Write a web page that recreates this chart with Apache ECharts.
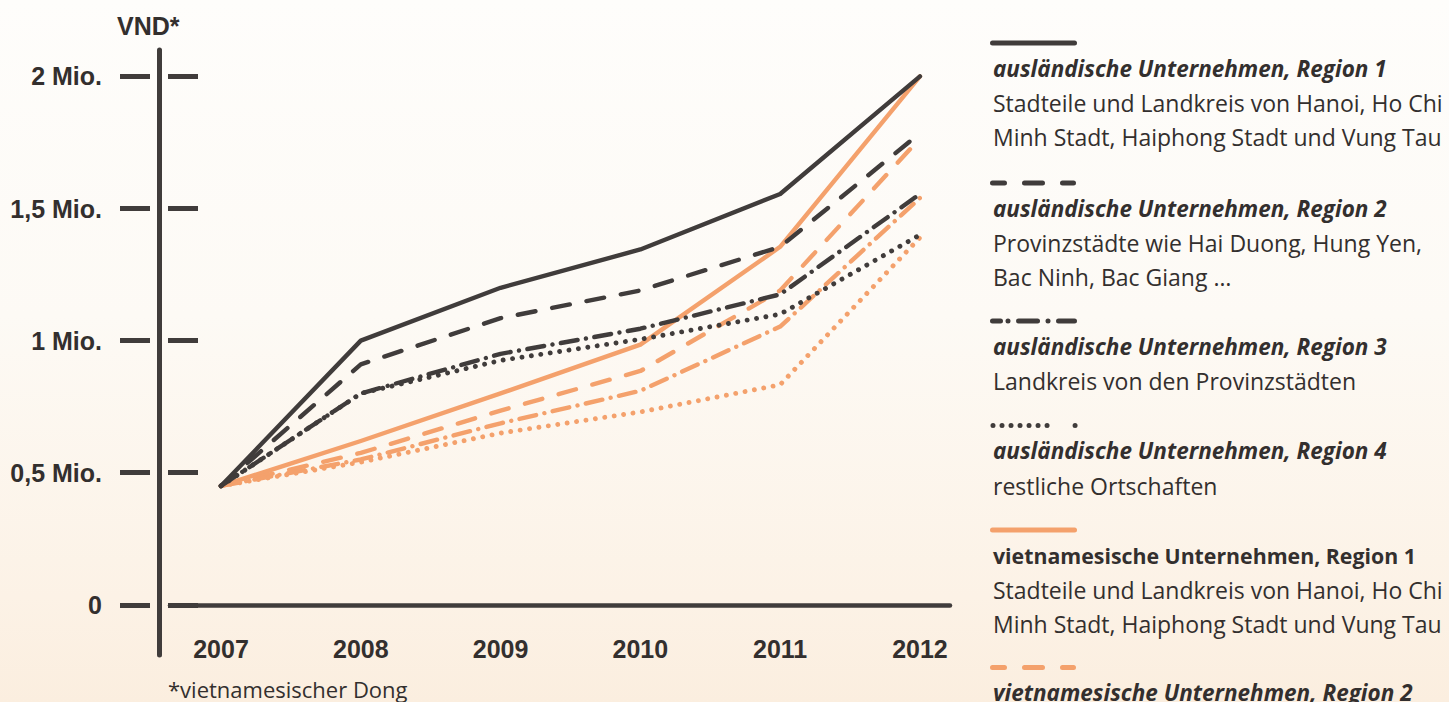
<!DOCTYPE html>
<html>
<head>
<meta charset="utf-8">
<script src="https://cdn.jsdelivr.net/npm/echarts@6/dist/echarts.min.js"></script>
<style>
html,body{margin:0;padding:0;width:1449px;height:702px;overflow:hidden;
background:linear-gradient(to bottom,#fefdfb 0%,#fdfaf5 45%,#fcf2e6 85%,#fbeedf 100%);}
#c{width:1449px;height:702px;}
</style>
</head>
<body>
<div id="c"></div>
<script>
// ---- data ----
const years = ['2007','2008','2009','2010','2011','2012'];
const yTickValues = [0, 0.5, 1, 1.5, 2];
const yTickLabels = ['0', '0,5 Mio.', '1 Mio.', '1,5 Mio.', '2 Mio.'];
const auslRegion1 = [0.45, 1.00, 1.20, 1.345, 1.555, 2.00];
const auslRegion2 = [0.45, 0.91, 1.085, 1.19, 1.355, 1.785];
const auslRegion3 = [0.45, 0.80, 0.95, 1.045, 1.175, 1.555];
const auslRegion4 = [0.45, 0.80, 0.925, 1.005, 1.10, 1.40];
const vietRegion1 = [0.45, 0.62, 0.80, 0.985, 1.355, 2.00];
const vietRegion2 = [0.45, 0.575, 0.735, 0.885, 1.19, 1.765];
const vietRegion3 = [0.45, 0.55, 0.687, 0.81, 1.053, 1.54];
const vietRegion4 = [0.45, 0.54, 0.65, 0.73, 0.833, 1.39];
const seriesNames = [
  'ausländische Unternehmen, Region 1',
  'ausländische Unternehmen, Region 2',
  'ausländische Unternehmen, Region 3',
  'ausländische Unternehmen, Region 4',
  'vietnamesische Unternehmen, Region 1',
  'vietnamesische Unternehmen, Region 2',
  'vietnamesische Unternehmen, Region 3',
  'vietnamesische Unternehmen, Region 4'
];
const legendDescs = [
  ['Stadteile und Landkreis von Hanoi, Ho Chi', 'Minh Stadt, Haiphong Stadt und Vung Tau'],
  ['Provinzstädte wie Hai Duong, Hung Yen,', 'Bac Ninh, Bac Giang …'],
  ['Landkreis von den Provinzstädten'],
  ['restliche Ortschaften'],
  ['Stadteile und Landkreis von Hanoi, Ho Chi', 'Minh Stadt, Haiphong Stadt und Vung Tau'],
  []
];
const unitLabel = 'VND*';
const footnote = '*vietnamesischer Dong';

// ---- styles ----
const DARK = '#403c3b';
const ORANGE = '#f4a16c';
const TEXT = '#332f2e';
const AXISFONT = '"Liberation Sans",Arial,sans-serif';
const SANS = '"Open Sans","Noto Sans",sans-serif';

const DASHED = [18, 17];
const DASHDOT = [17, 8.5, 0.01, 8.5];
const DOTTED = [0.01, 9.5];

function pts(arr){ return years.map((y,i)=>[Number(y), arr[i]]); }
function line(name, arr, color, type, z, w){
  return {
    name, type:'line', data: pts(arr), xAxisIndex:0, yAxisIndex:0, symbol:'none', z,
    lineStyle:{color, width:w || 4.4, type, cap:'round', join:'round'}
  };
}

// ---- legend graphics ----
const legendX = 993;
const groupY = [43, 183, 321, 425.5, 530, 667.5];
const legendStyles = [
  {color:DARK, dash:null},
  {color:DARK, dash:[12,20,18,20,11]},
  {color:DARK, dash:[8,7.5,0.01,10.5,19,10.5,0.01,10.5,16]},
  {color:DARK, dash:[0.01,9,0.01,9,0.01,9,0.01,9,0.01,9,0.01,9,0.01,28]},
  {color:ORANGE, dash:null},
  {color:ORANGE, dash:[12,20,18,20,11]}
];
const titleFont = [
  'italic bold 22.5px ', 'italic bold 22.5px ', 'italic bold 22.5px ', 'italic bold 22.5px ',
  'bold 21.3px ', 'italic bold 22.5px '
];
const graphics = [];
groupY.forEach((gy,i)=>{
  const st = legendStyles[i];
  const x1 = i===3 ? 993 : 992.5, x2 = i===3 ? 1076.5 : 1074.5;
  graphics.push({type:'line', shape:{x1, y1:gy, x2, y2:gy},
    style:{stroke:st.color, lineWidth:5, lineCap:'round', lineDash:st.dash || null}, silent:true});
  graphics.push({type:'text', x:legendX, y:gy+25,
    style:{text:seriesNames[i], fill:TEXT, font:titleFont[i]+SANS,
      textAlign:'left', textVerticalAlign:'middle'}});
  legendDescs[i].forEach((d,j)=>{
    graphics.push({type:'text', x:legendX, y:gy+60+j*34,
      style:{text:d, fill:TEXT, font:'23px '+SANS, textAlign:'left', textVerticalAlign:'middle'}});
  });
});
graphics.push({type:'text', x:117, y:26,
  style:{text:unitLabel, fill:TEXT, font:'bold 25px '+AXISFONT, textAlign:'left', textVerticalAlign:'middle'}});
graphics.push({type:'text', x:168, y:689,
  style:{text:footnote, fill:TEXT, font:'22px '+SANS, textAlign:'left', textVerticalAlign:'middle'}});

const Y_MAX = 2.1;
const X_MIN = 2006.635, X_MAX = 2012.215;
const axisLabelStyle = {color:TEXT, fontSize:25, fontWeight:'bold', fontFamily:AXISFONT};

const option = {
  animation:false,
  backgroundColor:'transparent',
  grid:[
    {left:170, right:499, top:50, bottom:97.2, containLabel:false, outerBoundsMode:'none'},
    {left:170, right:499, top:50, bottom:47, containLabel:false, outerBoundsMode:'none'}
  ],
  xAxis:[
    {
      gridIndex:0, type:'value', min:X_MIN, max:X_MAX,
      axisLine:{show:true, onZero:false, lineStyle:{color:DARK, width:4.5}},
      axisTick:{show:false}, splitLine:{show:false},
      axisLabel:Object.assign({customValues: years.map(Number), formatter:v=>String(v), margin:32}, axisLabelStyle)
    },
    {gridIndex:1, type:'value', min:X_MIN, max:X_MAX, show:false, splitLine:{show:false}}
  ],
  yAxis:[
    {gridIndex:0, type:'value', min:0, max:Y_MAX, position:'left', offset:20,
      splitLine:{show:false},
      axisLine:{show:false, onZero:false},
      axisTick:{show:true, customValues:yTickValues, length:30, lineStyle:{color:DARK, width:5}},
      axisLabel:Object.assign({show:true, customValues:yTickValues, margin:48,
        formatter:v=>yTickLabels[yTickValues.indexOf(v)] ?? ''}, axisLabelStyle)},
    {gridIndex:0, type:'value', min:0, max:Y_MAX, position:'left', offset:2,
      splitLine:{show:false},
      axisLine:{show:false, onZero:false},
      axisTick:{show:true, inside:true, customValues:yTickValues, length:30, lineStyle:{color:DARK, width:5}},
      axisLabel:{show:false}},
    {gridIndex:1, type:'value', min:0, max:1, position:'left', offset:10.5,
      splitLine:{show:false},
      axisLine:{show:true, onZero:false, lineStyle:{color:DARK, width:5}},
      axisTick:{show:false}, axisLabel:{show:false}}
  ],
  series:[
    line(seriesNames[4], vietRegion1, ORANGE, 'solid', 2),
    line(seriesNames[5], vietRegion2, ORANGE, DASHED, 2),
    line(seriesNames[6], vietRegion3, ORANGE, DASHDOT, 2),
    line(seriesNames[7], vietRegion4, ORANGE, DOTTED, 2, 4.9),
    line(seriesNames[0], auslRegion1, DARK, 'solid', 3),
    line(seriesNames[1], auslRegion2, DARK, DASHED, 3),
    line(seriesNames[2], auslRegion3, DARK, DASHDOT, 3),
    line(seriesNames[3], auslRegion4, DARK, DOTTED, 3, 4.9)
  ],
  graphic: graphics
};
const chart = echarts.init(document.getElementById('c'), null, {renderer:'svg'});
chart.setOption(option);
</script>
</body>
</html>
